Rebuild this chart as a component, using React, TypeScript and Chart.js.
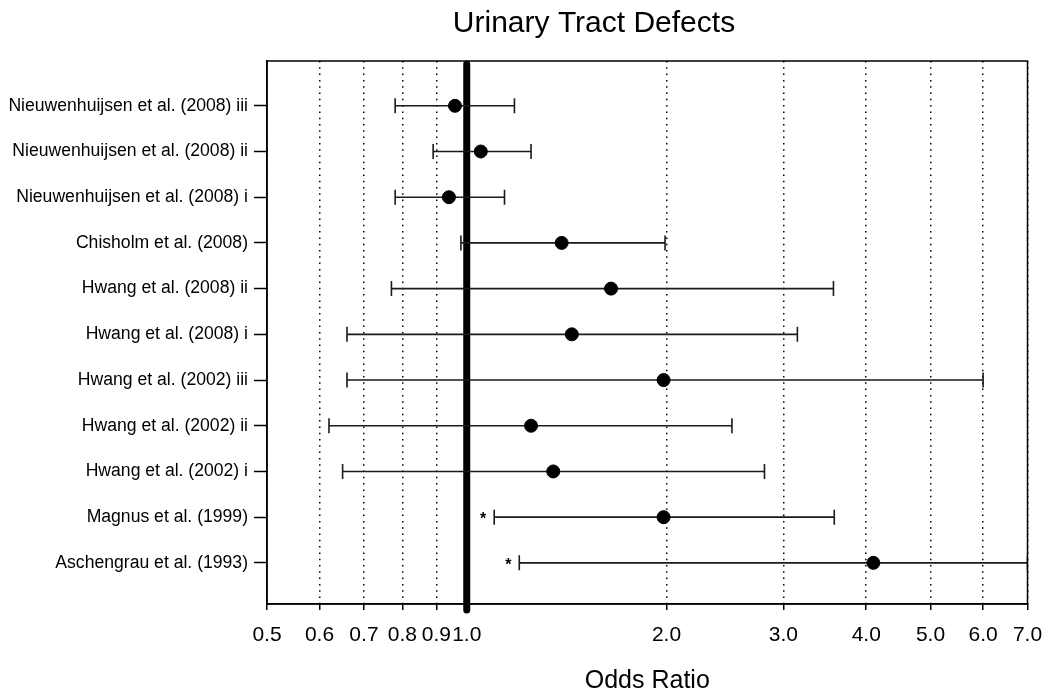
import React, { useEffect, useRef } from "react";
import { Chart, registerables } from "chart.js";

Chart.register(...registerables);

// Studies, top to bottom
const studies: string[] = [
  "Nieuwenhuijsen et al. (2008) iii",
  "Nieuwenhuijsen et al. (2008) ii",
  "Nieuwenhuijsen et al. (2008) i",
  "Chisholm et al. (2008)",
  "Hwang et al. (2008) ii",
  "Hwang et al. (2008) i",
  "Hwang et al. (2002) iii",
  "Hwang et al. (2002) ii",
  "Hwang et al. (2002) i",
  "Magnus et al. (1999)",
  "Aschengrau et al. (1993)",
];

// Odds ratios with 95% confidence limits
const oddsRatios: number[] = [0.96, 1.05, 0.94, 1.39, 1.65, 1.44, 1.98, 1.25, 1.35, 1.98, 4.1];
const lowerCI: number[] = [0.78, 0.89, 0.78, 0.98, 0.77, 0.66, 0.66, 0.62, 0.65, 1.1, 1.2];
const upperCI: number[] = [1.18, 1.25, 1.14, 1.99, 3.57, 3.15, 6.0, 2.51, 2.81, 3.58, 7.0];
// Rows flagged as significant
const flagged: boolean[] = [false, false, false, false, false, false, false, false, false, true, true];

const xTicks: number[] = [0.5, 0.6, 0.7, 0.8, 0.9, 1.0, 2.0, 3.0, 4.0, 5.0, 6.0, 7.0];
const refValue = 1.0;

const chartTitle = "Urinary Tract Defects";
const xTitle = "Odds Ratio";

const FONT = "'Liberation Sans', Arial, sans-serif";

const forestPlugin = {
  id: "forestDecor",
  beforeDatasetsDraw(chart: any) {
    const { ctx, chartArea, scales } = chart;
    const x = scales.x;
    const y = scales.y;
    ctx.save();
    // reference line at OR = 1
    const rx = x.getPixelForValue(refValue);
    ctx.strokeStyle = "#000";
    ctx.lineWidth = 7;
    ctx.lineCap = "round";
    ctx.beginPath();
    ctx.moveTo(rx, chartArea.top + 3);
    ctx.lineTo(rx, chartArea.bottom + 6);
    ctx.stroke();
    ctx.lineCap = "butt";

    // confidence interval whiskers
    ctx.strokeStyle = "#1a1a1a";
    ctx.lineWidth = 1.6;
    ctx.beginPath();
    ctx.rect(chartArea.left, chartArea.top, chartArea.right - chartArea.left, chartArea.bottom - chartArea.top);
    ctx.clip();
    for (let i = 0; i < studies.length; i++) {
      const py = y.getPixelForValue(i);
      const lx = x.getPixelForValue(lowerCI[i]);
      const ux = x.getPixelForValue(upperCI[i]);
      ctx.beginPath();
      ctx.moveTo(lx, py);
      ctx.lineTo(ux, py);
      ctx.moveTo(lx, py - 7.5);
      ctx.lineTo(lx, py + 7.5);
      ctx.moveTo(ux, py - 7.5);
      ctx.lineTo(ux, py + 7.5);
      ctx.stroke();
    }
    ctx.restore();

    ctx.save();
    // significance markers
    ctx.fillStyle = "#000";
    ctx.font = `bold 16px ${FONT}`;
    ctx.textAlign = "center";
    ctx.textBaseline = "alphabetic";
    for (let i = 0; i < studies.length; i++) {
      if (!flagged[i]) continue;
      const py = y.getPixelForValue(i);
      const lx = x.getPixelForValue(lowerCI[i]);
      ctx.fillText("*", lx - 11, py + 7);
    }
    ctx.restore();
  },
  afterDraw(chart: any) {
    const { ctx, chartArea } = chart;
    ctx.save();
    // frame around the plotting region
    ctx.strokeStyle = "#000";
    ctx.lineWidth = 1.5;
    ctx.strokeRect(chartArea.left, chartArea.top, chartArea.right - chartArea.left, chartArea.bottom - chartArea.top);

    ctx.fillStyle = "#000";
    ctx.textAlign = "center";
    ctx.textBaseline = "middle";
    ctx.font = `30px ${FONT}`;
    ctx.fillText(chartTitle, 594, 24);
    ctx.font = `25px ${FONT}`;
    ctx.fillText(xTitle, (chartArea.left + chartArea.right) / 2, 681);
    ctx.restore();
  },
};

export default function App() {
  const canvasRef = useRef<HTMLCanvasElement | null>(null);

  useEffect(() => {
    document.body.style.margin = "0";
    const canvas = canvasRef.current;
    if (!canvas) return;

    const chart = new Chart(canvas, {
      type: "scatter",
      data: {
        datasets: [
          {
            data: oddsRatios.map((v, i) => ({ x: v, y: i })),
            backgroundColor: "#000",
            borderColor: "#000",
            pointRadius: 6.5,
            pointHoverRadius: 6.5,
          },
        ],
      },
      options: {
        animation: false,
        responsive: false,
        maintainAspectRatio: false,
        layout: { padding: { left: 0, top: 61, right: 19.5, bottom: 0 } },
        plugins: {
          legend: { display: false },
          tooltip: { enabled: false },
          title: { display: false },
        },
        scales: {
          x: {
            type: "logarithmic",
            position: "bottom",
            min: 0.5,
            max: 7,
            afterBuildTicks: (scale: any) => {
              scale.ticks = xTicks.map((v) => ({ value: v }));
            },
            afterFit: (scale: any) => {
              scale.height = 92;
              scale.paddingLeft = 0;
              scale.paddingRight = 0;
            },
            ticks: {
              autoSkip: false,
              maxRotation: 0,
              minRotation: 0,
              padding: 13,
              color: "#000",
              font: { family: FONT, size: 21 },
              callback: (v: any) => Number(v).toFixed(1),
            },
            grid: {
              display: true,
              drawOnChartArea: true,
              drawTicks: true,
              tickLength: 6,
              color: "#000",
              lineWidth: 1.5,
              tickColor: "#000",
              tickWidth: 1.5,
            },
            border: { display: true, color: "#000", width: 1.5, dash: [1.5, 4.8] },
          },
          y: {
            type: "linear",
            position: "left",
            min: -0.98,
            max: 10.9,
            reverse: true,
            afterBuildTicks: (scale: any) => {
              scale.ticks = studies.map((_, i) => ({ value: i }));
            },
            afterFit: (scale: any) => {
              scale.width = 267;
            },
            ticks: {
              autoSkip: false,
              padding: 6,
              color: "#000",
              font: { family: FONT, size: 17.6 },
              callback: (v: any) => studies[Math.round(Number(v))] ?? "",
            },
            grid: {
              display: true,
              drawOnChartArea: false,
              drawTicks: true,
              tickLength: 13,
              tickColor: "#000",
              tickWidth: 1.5,
            },
            border: { display: true, color: "#000", width: 1.5 },
          },
        },
      },
      plugins: [forestPlugin],
    });

    return () => chart.destroy();
  }, []);

  return (
    <div style={{ width: 1047, height: 696 }}>
      <canvas ref={canvasRef} width={1047} height={696} style={{ display: "block" }} />
    </div>
  );
}
